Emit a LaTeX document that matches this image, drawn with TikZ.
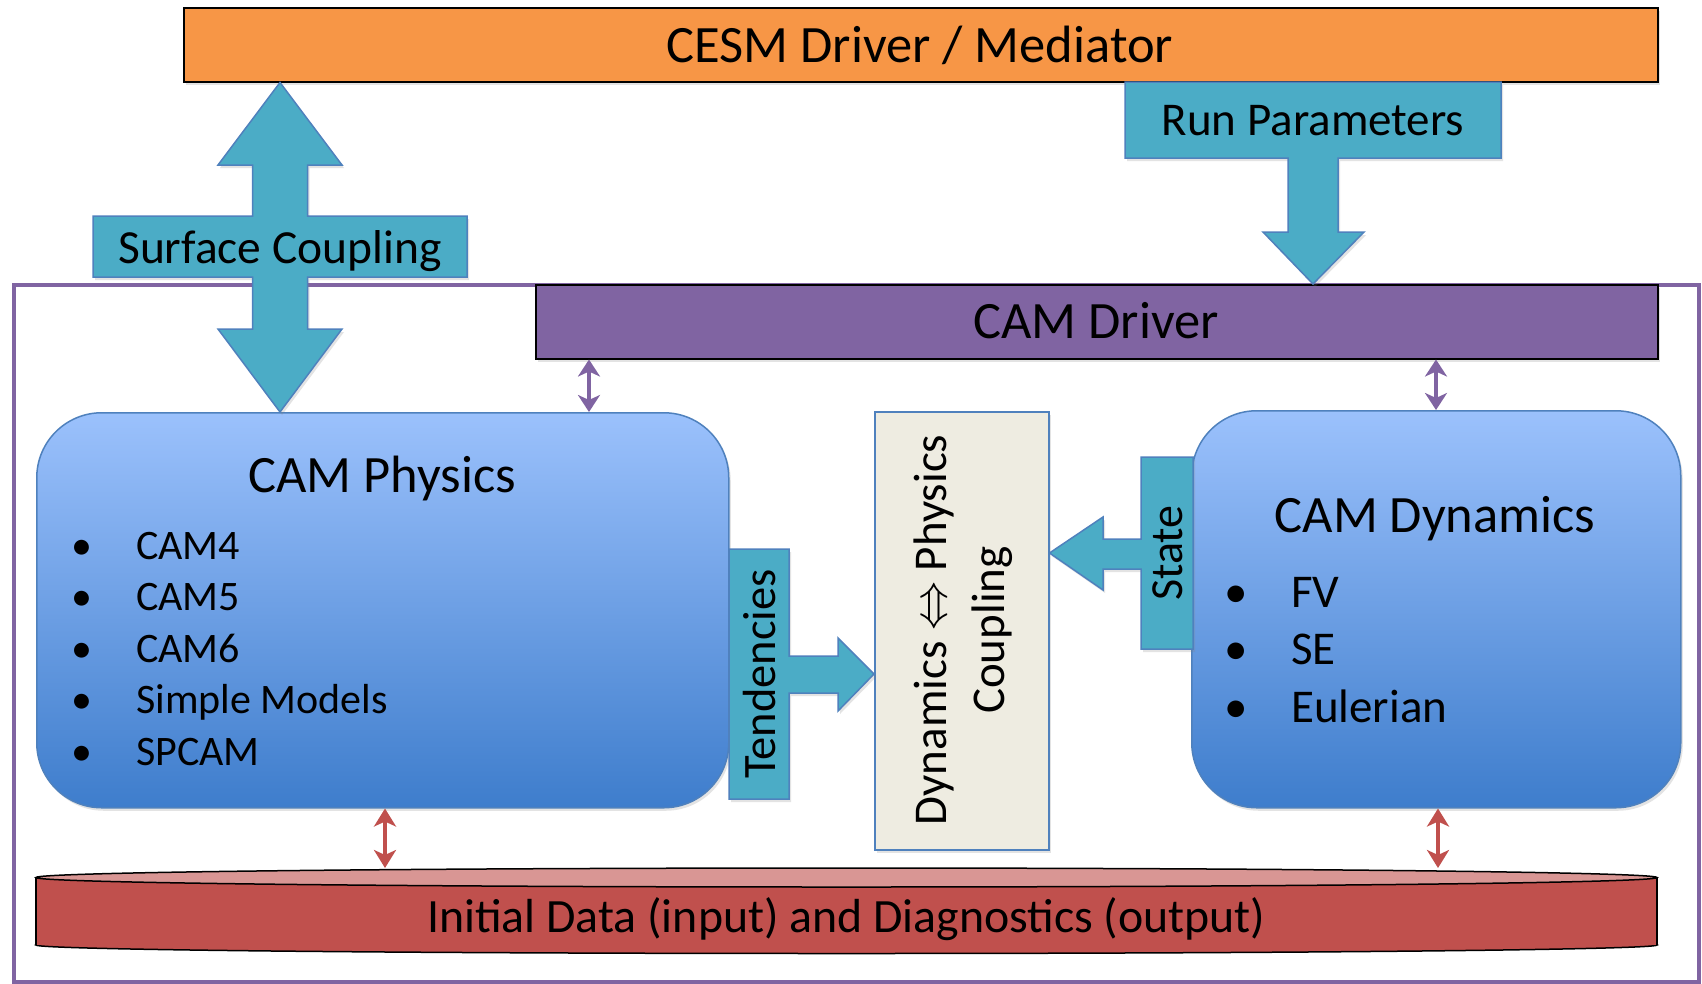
\documentclass[tikz,border=0pt]{standalone}
\usepackage{fontspec}
\usepackage{graphicx}
\setmainfont{Carlito}
\usetikzlibrary{arrows.meta,shadows,calc}
\definecolor{cesmorange}{HTML}{F79646}
\definecolor{campurple}{HTML}{8064A2}
\definecolor{calloutteal}{HTML}{4BACC6}
\definecolor{edgeblue}{HTML}{4F81BD}
\definecolor{boxtop}{RGB}{155,193,252}
\definecolor{boxbot}{RGB}{62,125,204}
\definecolor{couplefill}{HTML}{EEECE1}
\definecolor{datared}{HTML}{C0504D}
\definecolor{datatop}{HTML}{D99694}
\newcommand{\bigdoublearrow}{{\fontsize{10}{12}\selectfont\scalebox{4.9}{$\Leftrightarrow$}}}
\begin{document}
\begin{tikzpicture}[x=1pt,y=-1pt,
  shadowed/.style={drop shadow={opacity=0.22,shadow xshift=2pt,shadow yshift=-3pt}},
  barbox/.style={draw=black, line width=1.5pt, inner sep=0pt, anchor=north west, shadowed},
  callout/.style={fill=calloutteal, draw=edgeblue, line width=1.5pt, line join=miter, shadowed},
  modbox/.style={draw=edgeblue, line width=1.5pt, rounded corners=65pt, top color=boxtop, bottom color=boxbot, inner sep=0pt, anchor=north west, shadowed},
  bigfont/.style={font=\fontsize{52.5}{63}\selectfont},
  midfont/.style={font=\fontsize{47.5}{58}\selectfont},
  listfont/.style={font=\fontsize{42}{50}\selectfont},
  dynfont/.style={font=\fontsize{47}{57}\selectfont},
  purplelink/.style={draw=campurple, line width=4pt, {Stealth[length=17pt,width=22pt,inset=5pt]}-{Stealth[length=17pt,width=22pt,inset=5pt]}},
  redlink/.style={draw=datared, line width=4pt, {Stealth[length=18pt,width=22pt,inset=5pt]}-{Stealth[length=18pt,width=22pt,inset=5pt]}},
]
\useasboundingbox (0,0) rectangle (1702,983);
\fill[white] (0,0) rectangle (1702,983);

% outer CAM frame
\node[draw=campurple, line width=4pt, inner sep=0pt, anchor=north west, minimum width=1685pt, minimum height=697pt] (camframe) at (12,283) {};

% CESM driver
\node[barbox, fill=cesmorange, minimum width=1474pt, minimum height=74pt] (cesm) at (183,7) {};
\node[bigfont, anchor=base] (cesmlabel) at (920,62) {CESM Driver / Mediator};

% CAM driver
\node[barbox, fill=campurple, minimum width=1122pt, minimum height=74pt] (driver) at (535,284) {};
\node[bigfont, anchor=base] (driverlabel) at (1096,338) {CAM Driver};

% CAM physics
\node[modbox, minimum width=692pt, minimum height=395pt] (physics) at (36,412) {};
\node[bigfont, anchor=base] (physlabel) at (382,492) {CAM Physics};
\foreach \t [count=\i] in {CAM4,CAM5,CAM6,Simple Models,SPCAM}{
  \node[listfont, anchor=base, inner sep=0pt] (pb\i) at (82,{559+(\i-1)*51.6}) {\textbullet};
  \node[listfont, anchor=base west, inner sep=0pt] (pt\i) at (136,{559+(\i-1)*51.6}) {\t};
}

% CAM dynamics
\node[modbox, minimum width=489pt, minimum height=397pt] (dynamics) at (1191,410) {};
\node[bigfont, anchor=base] (dynlabel) at (1435,532) {CAM Dynamics};
\foreach \t [count=\i] in {FV,SE,Eulerian}{
  \node[dynfont, anchor=base, inner sep=0pt] (db\i) at (1236,{607+(\i-1)*57.5}) {\textbullet};
  \node[dynfont, anchor=base west, inner sep=0pt] (dt\i) at (1291,{607+(\i-1)*57.5}) {\t};
}

% coupling box
\node[draw=edgeblue, fill=couplefill, line width=1.5pt, inner sep=0pt, anchor=north west, minimum width=174pt, minimum height=438pt, shadowed] (coupling) at (874,411) {};
\node[font=\fontsize{47}{58}\selectfont, rotate=90, align=center] (couplabel) at (963,630) {Dynamics \bigdoublearrow{} Physics\\Coupling};

% Surface coupling callout
\coordinate (sc) at (280,0);
\path[callout] (cesm.south -| sc) -- (342,165) -- (307.5,165) -- (307.5,216) -- (467,216) -- (467,277) -- (307.5,277) -- (307.5,329) -- (342,329) -- (physics.north -| sc) -- (218,329) -- (252.5,329) -- (252.5,277) -- (93,277) -- (93,216) -- (252.5,216) -- (252.5,165) -- (218,165) -- cycle;
\node[midfont, anchor=base] (sclabel) at (280,263) {Surface Coupling};

% Run parameters callout
\coordinate (rp) at (1313,0);
\path[callout] (1125,82) -- (1501,82) -- (1501,158) -- (1338,158) -- (1338,232) -- (1364,232) -- (driver.north -| rp) -- (1263,232) -- (1288,232) -- (1288,158) -- (1125,158) -- cycle;
\node[font=\fontsize{47}{57}\selectfont, anchor=base] (rplabel) at (1313,135) {Run Parameters};

% Tendencies callout
\coordinate (td) at (0,674);
\path[callout] (729,549) -- (789,549) -- (789,656) -- (838,656) -- (838,638) -- (coupling.west |- td) -- (838,711) -- (838,693) -- (789,693) -- (789,799) -- (729,799) -- cycle;
\node[font=\fontsize{46.5}{56}\selectfont, rotate=90] (tdlabel) at (760,674) {Tendencies};

% State callout
\coordinate (st) at (0,553);
\path[callout] (1193,457) -- (1193,649) -- (1141,649) -- (1141,569) -- (1103,569) -- (1103,590) -- (coupling.east |- st) -- (1103,517) -- (1103,539) -- (1141,539) -- (1141,457) -- cycle;
\node[font=\fontsize{46}{56}\selectfont, rotate=90] (stlabel) at (1168,553) {State};

% data cylinder
\path[draw=black, line width=1.5pt, fill=datared] (846.5,945) ellipse [x radius=810.5, y radius=8.5];
\fill[datared] (36,877.5) rectangle (1657,945);
\draw[black, line width=1.5pt] (36,877.5) -- (36,945) (1657,877.5) -- (1657,945);
\path[draw=black, line width=1.5pt, fill=datatop] (846.5,877.5) ellipse [x radius=810.5, y radius=9.5];
\coordinate (datatop) at (846.5,868);
\node[font=\fontsize{47.8}{58}\selectfont, anchor=base] (datalabel) at (846.5,932) {Initial Data (input) and Diagnostics (output)};

% small links
\coordinate (pa) at (589,0);
\coordinate (pb) at (1436,0);
\draw[purplelink] (driver.south -| pa) -- (physics.north -| pa);
\draw[purplelink] (driver.south -| pb) -- (dynamics.north -| pb);
\coordinate (ra) at (385,0);
\coordinate (rb) at (1438,0);
\draw[redlink] (physics.south -| ra) -- (datatop -| ra);
\draw[redlink] (dynamics.south -| rb) -- (datatop -| rb);
\end{tikzpicture}
\end{document}
